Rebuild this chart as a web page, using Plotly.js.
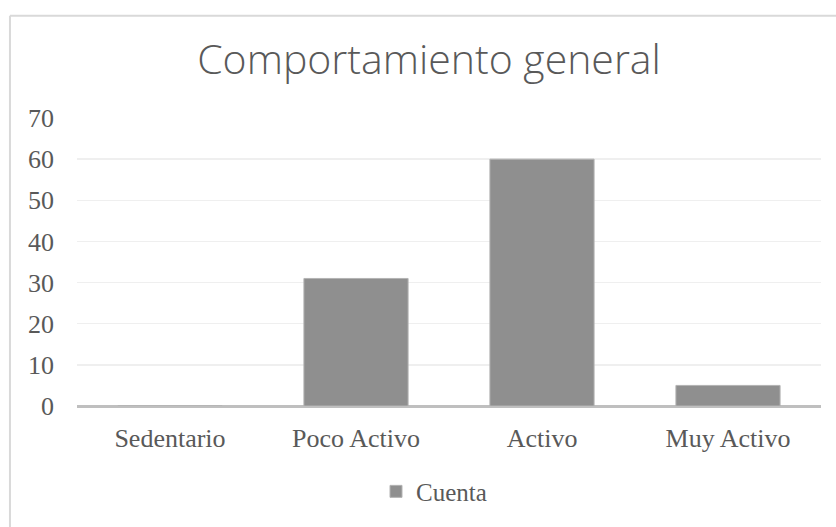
<!DOCTYPE html>
<html>
<head>
<meta charset="utf-8">
<script src="https://cdn.plot.ly/plotly-3.0.1.min.js"></script>
<style>
html,body{margin:0;padding:0;background:#fff;}
#chart{width:836px;height:527px;}
</style>
</head>
<body>
<div id="chart"></div>
<script>
const categories = ["Sedentario", "Poco Activo", "Activo", "Muy Activo"];
const cuenta = [0, 31, 60, 5];
const seriesName = "Cuenta";
const yTicks = [0, 10, 20, 30, 40, 50, 60, 70];

const tickFont = {family: "Liberation Serif", size: 26, color: "#595959"};

const trace = {
  type: "bar",
  x: categories,
  y: cuenta,
  name: seriesName,
  width: 0.56,
  marker: {color: "#8f8f8f", line: {color: "#b3b3b3", width: 1}},
  hoverinfo: "x+y"
};

const layout = {
  width: 836,
  height: 527,
  margin: {l: 77, r: 15, t: 118, b: 113},
  paper_bgcolor: "#ffffff",
  plot_bgcolor: "#ffffff",
  title: {
    text: "Comportamiento general",
    font: {family: "Open Sans", size: 41, color: "#595959", weight: 300},
    xref: "container", x: 429/836, xanchor: "center",
    yref: "container", y: 1 - 60/527, yanchor: "middle"
  },
  xaxis: {
    type: "category",
    tickfont: tickFont,
    showgrid: false,
    showline: false,
    zeroline: false,
    ticks: "",
    ticklabelstandoff: 14
  },
  yaxis: {
    range: [0, 70],
    tickvals: yTicks,
    tickfont: tickFont,
    showgrid: true,
    gridcolor: "#efefef",
    gridwidth: 1.5,
    zeroline: true,
    zerolinecolor: "#bfbfbf",
    zerolinewidth: 3,
    showline: false,
    ticks: "",
    ticklabelstandoff: 22
  },
  showlegend: true,
  legend: {
    orientation: "h",
    x: (376 - 77) / 744, xanchor: "left",
    y: -(502 - 414) / 296, yanchor: "middle",
    font: {family: "Liberation Serif", size: 25, color: "#595959"}
  },
  shapes: [
    {type: "line", xref: "paper", yref: "paper", x0: -0.0901, x1: 1.03, y0: 1 + (118 - 13) / 296, y1: 1 + (118 - 13) / 296, line: {color: "#d9d9d9", width: 2}},
    {type: "line", xref: "paper", yref: "paper", x0: -0.0901, x1: -0.0901, y0: 1 + (118 - 13) / 296, y1: -0.5, line: {color: "#d9d9d9", width: 2}}
  ]
};

Plotly.newPlot("chart", [trace], layout, {displayModeBar: false, staticPlot: true});
</script>
</body>
</html>
